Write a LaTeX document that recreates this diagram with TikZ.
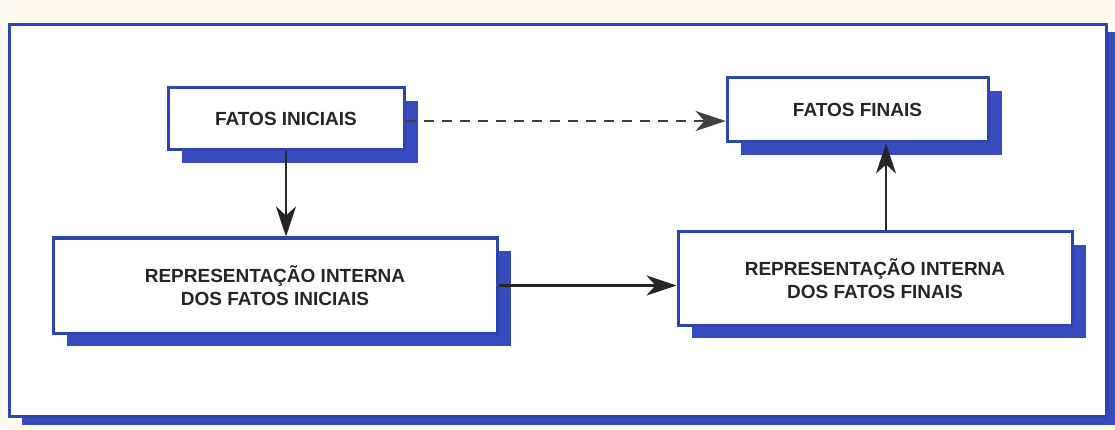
\documentclass[tikz,border=0pt]{standalone}
\usepackage{fontspec}
\setmainfont{Liberation Sans}
\usetikzlibrary{arrows.meta,shadows,calc}
\definecolor{frameblue}{RGB}{45,70,175}
\definecolor{shadowblue}{RGB}{55,75,190}
\definecolor{paper}{RGB}{253,250,240}
\begin{document}
\begin{tikzpicture}[x=1pt,y=-1pt,
  box/.style={draw=frameblue, line width=3pt, fill=white, align=center,
    font=\bfseries\fontsize{19}{23}\selectfont, text=black!85,
    inner sep=0pt,
    drop shadow={shadow xshift=14pt, shadow yshift=-13pt, fill=shadowblue, opacity=1}},
  conn/.style={line width=2.6pt, black!85, -{Stealth[length=30pt,width=20pt,inset=9pt]}},
  dconn/.style={line width=1.1pt, black!75, dash pattern=on 10pt off 8pt, -{Stealth[length=30pt,width=20pt,inset=9pt]}}]
\useasboundingbox (0,0) rectangle (1115,430);
\fill[paper] (0,0) rectangle (1115,430);
% outer frame with shadow
\fill[shadowblue] (22,32) rectangle (1115,425);
\draw[frameblue, line width=3pt, fill=white] (9,25) rectangle (1106,416);
% boxes
\node[box, minimum width=236pt, minimum height=62pt] (fi) at (286,119) {FATOS INICIAIS};
\node[box, minimum width=261pt, minimum height=64pt] (ff) at (857.5,110) {FATOS FINAIS};
\node[box, minimum width=444pt, minimum height=95pt] (ri) at (275,285.5) {REPRESENTAÇÃO INTERNA\\DOS FATOS INICIAIS};
\node[box, minimum width=394pt, minimum height=93pt] (rf) at (875,278.5) {REPRESENTAÇÃO INTERNA\\DOS FATOS FINAIS};
% connectors
\draw[conn] (fi.south) -- (fi.south |- ri.north);
\draw[conn] (ri.east) -- (ri.east -| rf.west);
\draw[conn] ([xshift=11pt]rf.north) -- ([xshift=11pt]rf.north |- ff.south);
\draw[dconn] ([yshift=-2pt]fi.east) -- ([yshift=-2pt]fi.east -| ff.west);
\end{tikzpicture}
\end{document}
